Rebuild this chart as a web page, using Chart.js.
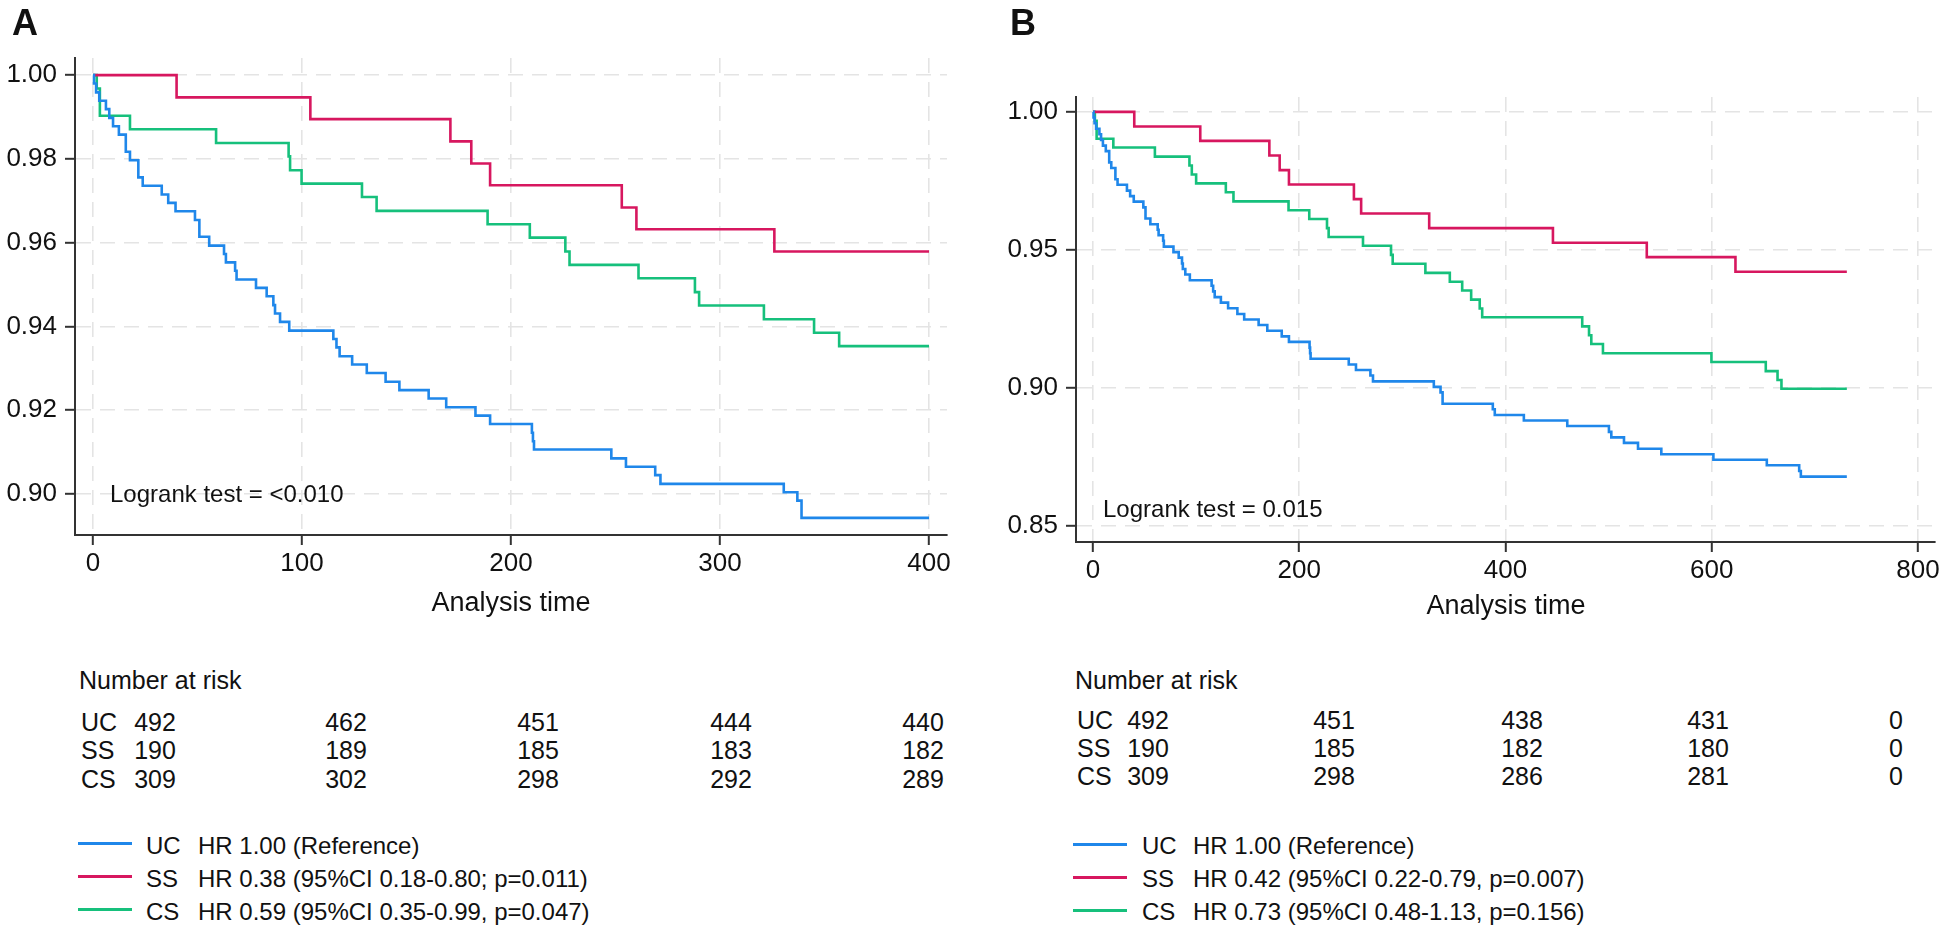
<!DOCTYPE html>
<html><head><meta charset="utf-8">
<script src="https://cdn.jsdelivr.net/npm/chart.js@4/dist/chart.umd.min.js"></script>
<style>
html,body{margin:0;padding:0;background:#fff;}
body{width:1950px;height:935px;position:relative;overflow:hidden;font-family:"Liberation Sans",Arial,Helvetica,sans-serif;color:#111;}
canvas{position:absolute;}
.t{position:absolute;white-space:nowrap;}
.ln{position:absolute;height:3px;}
</style></head><body>
<canvas id="ca" width="960" height="610" style="left:0px;top:0px"></canvas>
<canvas id="cb" width="970" height="620" style="left:980px;top:0px"></canvas>
<script>
// ---------------- DATA ----------------
const groups = ['UC', 'SS', 'CS'];

// Panel A (0-400 days)
const timeA_UC = [0,0.5,1.5,3,6.2,7.8,9.6,12.4,15.7,17.7,21.7,23.8,32.9,36,39.5,48.8,50.9,55.6,62.7,63.6,68,68.7,78,83.1,86.3,87.1,89.5,93.9,115,116.5,118,124,131,140,146.6,160.6,169,183,190,210,210.5,211,248,255,269,271.5,330.5,337,339,400];
const survA_UC = [1,0.9980,0.9959,0.9939,0.9919,0.9898,0.9878,0.9858,0.9817,0.9797,0.9756,0.9736,0.9715,0.9695,0.9675,0.9654,0.9614,0.9593,0.9573,0.9553,0.9533,0.9512,0.9492,0.9472,0.9451,0.9431,0.9411,0.9390,0.9370,0.9350,0.9329,0.9309,0.9289,0.9268,0.9248,0.9228,0.9207,0.9187,0.9167,0.9146,0.9126,0.9106,0.9085,0.9065,0.9045,0.9024,0.9004,0.8984,0.8943,0.8943];
const timeA_SS = [0,40,104,171,181,190,253,260,326,400];
const survA_SS = [1,0.9947,0.9895,0.9842,0.9789,0.9737,0.9684,0.9632,0.9579,0.9579];
const timeA_CS = [0,1.8,3.3,17.7,58.9,93.6,94.3,99.8,128.7,135.7,188.8,209,226,228,261,288,290,321,345,357,400];
const survA_CS = [1,0.9968,0.9903,0.9871,0.9838,0.9806,0.9773,0.9741,0.9709,0.9676,0.9644,0.9612,0.9579,0.9547,0.9515,0.9482,0.9450,0.9417,0.9385,0.9353,0.9353];

// Panel B (0-730 days)
const timeB_UC = [0,0.5,1.5,3,6.2,7.8,9.6,12.4,15.7,17.7,21.7,23.8,32.9,36,39.5,48.8,50.9,55.6,62.7,63.6,68,68.7,78,83.1,86.3,87.1,89.5,93.9,115,116.5,118,124,131,140,146.6,160.6,169,183,190,210,210.5,211,248,255,269,271.5,330.5,337,339,387.7,389.6,417.8,459.9,500.3,502.6,514.9,528.5,551.1,601.6,653.4,684.8,686.4,731];
const survB_UC = [1,0.9980,0.9959,0.9939,0.9919,0.9898,0.9878,0.9858,0.9817,0.9797,0.9756,0.9736,0.9715,0.9695,0.9675,0.9654,0.9614,0.9593,0.9573,0.9553,0.9533,0.9512,0.9492,0.9472,0.9451,0.9431,0.9411,0.9390,0.9370,0.9350,0.9329,0.9309,0.9289,0.9268,0.9248,0.9228,0.9207,0.9187,0.9167,0.9146,0.9126,0.9106,0.9085,0.9065,0.9045,0.9024,0.9004,0.8984,0.8943,0.8923,0.8902,0.8882,0.8862,0.8841,0.8821,0.8801,0.8780,0.8760,0.8740,0.8720,0.8699,0.8679,0.8679];
const timeB_SS = [0,40,104,171,181,190,253,260,326,446,537,623,731];
const survB_SS = [1,0.9947,0.9895,0.9842,0.9789,0.9737,0.9684,0.9632,0.9579,0.9526,0.9474,0.9421,0.9421];
const timeB_CS = [0,1.8,3.5,19.7,60,93.5,95.8,100,128.8,136.2,189.6,209.7,226.9,228.5,261.8,289,290.6,322.3,346,358,366.7,375,377.4,474.4,481,483.2,494.5,599.7,652.4,663.8,667.6,731];
const survB_CS = [1,0.9968,0.9903,0.9871,0.9838,0.9806,0.9773,0.9741,0.9709,0.9676,0.9644,0.9612,0.9579,0.9547,0.9515,0.9482,0.9450,0.9417,0.9385,0.9353,0.9320,0.9288,0.9256,0.9223,0.9191,0.9159,0.9126,0.9094,0.9061,0.9029,0.8997,0.8997];

// Axes
const xTicksA = [0,100,200,300,400];
const yTicksA = [0.90,0.92,0.94,0.96,0.98,1.00];
const yLabelsA = ['0.90','0.92','0.94','0.96','0.98','1.00'];
const xTicksB = [0,200,400,600,800];
const yTicksB = [0.85,0.90,0.95,1.00];
const yLabelsB = ['0.85','0.90','0.95','1.00'];
const xTitle = 'Analysis time';

// Number at risk
const riskA_UC = [492,462,451,444,440];
const riskA_SS = [190,189,185,183,182];
const riskA_CS = [309,302,298,292,289];
const riskB_UC = [492,451,438,431,0];
const riskB_SS = [190,185,182,180,0];
const riskB_CS = [309,298,286,281,0];

// Annotations
const logrankA = 'Logrank test = <0.010';
const logrankB = 'Logrank test = 0.015';
const legendA = ['HR 1.00 (Reference)','HR 0.38 (95%CI 0.18-0.80; p=0.011)','HR 0.59 (95%CI 0.35-0.99, p=0.047)'];
const legendB = ['HR 1.00 (Reference)','HR 0.42 (95%CI 0.22-0.79, p=0.007)','HR 0.73 (95%CI 0.48-1.13, p=0.156)'];

// ---------------- STYLE ----------------
const FONT = '"Liberation Sans", Arial, Helvetica, sans-serif';
const COLORS = ['#1f87ea', '#d7175f', '#16c07c'];
const GRID = '#e4e4e4';
const AX = '#333333';

function toPts(t, s){ return t.map((v,i)=>({x:v, y:s[i]})); }

function ds(label, t, s, c){
  return {label, data: toPts(t,s), showLine:true, stepped:'before', borderColor:c, backgroundColor:c,
          borderWidth:2.6, pointRadius:0, fill:false, borderJoinStyle:'miter', borderCapStyle:'butt'};
}

function build(id, datasets, xr, yr, lay){
  return new Chart(document.getElementById(id), {
    type:'scatter',
    data:{datasets},
    options:{
      responsive:false, animation:false, devicePixelRatio:1,
      layout:{padding:{top:lay.top, right:lay.right, left:0, bottom:0}},
      plugins:{legend:{display:false}, tooltip:{enabled:false}},
      scales:{
        x:{type:'linear', min:xr.min, max:xr.max,
          afterBuildTicks:s=>{ s.ticks = xr.ticks.map(v=>({value:v})); },
          afterFit:s=>{ s.height = lay.xh; },
          ticks:{font:{family:FONT,size:26}, color:'#111', padding:3, maxRotation:0, autoSkip:false,
                 callback:v=>String(v)},
          grid:{color:GRID, lineWidth:1.6, tickColor:AX, tickWidth:2, tickLength:10, tickBorderDash:[]},
          border:{display:true, color:AX, width:2, dash:[15,9]}
        },
        y:{type:'linear', min:yr.min, max:yr.max,
          afterBuildTicks:s=>{ s.ticks = yr.ticks.map(v=>({value:v})); },
          afterFit:s=>{ s.width = lay.yw; },
          ticks:{font:{family:FONT,size:26}, color:'#111', padding:8, autoSkip:false,
                 callback:v=>{ const i = yr.ticks.indexOf(v); return i>=0 ? yr.labels[i] : v.toFixed(2); }},
          grid:{color:GRID, lineWidth:1.6, tickColor:AX, tickWidth:2, tickLength:10, tickBorderDash:[]},
          border:{display:true, color:AX, width:2, dash:[15,9]}
        }
      }
    }
  });
}

build('ca',
  [ds(groups[0],timeA_UC,survA_UC,COLORS[0]), ds(groups[1],timeA_SS,survA_SS,COLORS[1]), ds(groups[2],timeA_CS,survA_CS,COLORS[2])],
  {min:-8.6, max:408.6, ticks:xTicksA},
  {min:0.8902, max:1.0041, ticks:yTicksA, labels:yLabelsA},
  {top:58, right:13, xh:75, yw:75});

build('cb',
  [ds(groups[0],timeB_UC,survB_UC,COLORS[0]), ds(groups[1],timeB_SS,survB_SS,COLORS[1]), ds(groups[2],timeB_CS,survB_CS,COLORS[2])],
  {min:-16.5, max:816.5, ticks:xTicksB},
  {min:0.8442, max:1.0054, ticks:yTicksB, labels:yLabelsB},
  {top:97, right:15, xh:78, yw:96});

// ---------------- TEXT (HTML) ----------------
function txt(s, x, base, fs, align, bold){
  const d = document.createElement('div');
  d.className = 't';
  d.textContent = s;
  d.style.fontSize = fs + 'px';
  d.style.lineHeight = fs + 'px';
  d.style.top = (base - 0.8465*fs) + 'px';
  if (bold) d.style.fontWeight = 'bold';
  if (align === 'center'){ d.style.left = x + 'px'; d.style.transform = 'translateX(-50%)'; }
  else d.style.left = x + 'px';
  document.body.appendChild(d);
}
function line(x1, x2, y, c){
  const d = document.createElement('div');
  d.className = 'ln';
  d.style.left = x1 + 'px'; d.style.width = (x2-x1) + 'px';
  d.style.top = (y-1.5) + 'px'; d.style.background = c;
  document.body.appendChild(d);
}

// panel letters
txt('A', 12, 35, 36, 'left', true);
txt('B', 1010, 35, 36, 'left', true);
// logrank
txt(logrankA, 110, 502, 24, 'left');
txt(logrankB, 1103, 517, 24, 'left');
// axis titles
txt(xTitle, 511, 612, 27, 'center');
txt(xTitle, 1506, 615, 27, 'center');

// risk tables
function riskTable(left, colX, bases, rows, headBase){
  txt('Number at risk', left, headBase, 25, 'left');
  rows.forEach((r,i)=>{
    txt(groups[i], left+2, bases[i], 25, 'left');
    r.forEach((v,j)=> txt(String(v), colX[j], bases[i], 25, 'center'));
  });
}
riskTable(79, [155,346,538,731,923], [731,759.5,788], [riskA_UC,riskA_SS,riskA_CS], 689);
riskTable(1075, [1148,1334,1522,1708,1896], [729,757,785], [riskB_UC,riskB_SS,riskB_CS], 689);

// legends
function legend(lx1, lx2, codeX, hrX, lineYs, bases, texts){
  texts.forEach((s,i)=>{
    line(lx1, lx2, lineYs[i], COLORS[i]);
    txt(groups[i], codeX, bases[i], 24, 'left');
    txt(s, hrX, bases[i], 24, 'left');
  });
}
legend(78, 132, 146, 198, [843,876.5,909.5], [854,887,920], legendA);
legend(1073, 1127, 1142, 1193, [844,877.5,910.5], [854.5,887.5,920.5], legendB);
</script>
</body></html>
